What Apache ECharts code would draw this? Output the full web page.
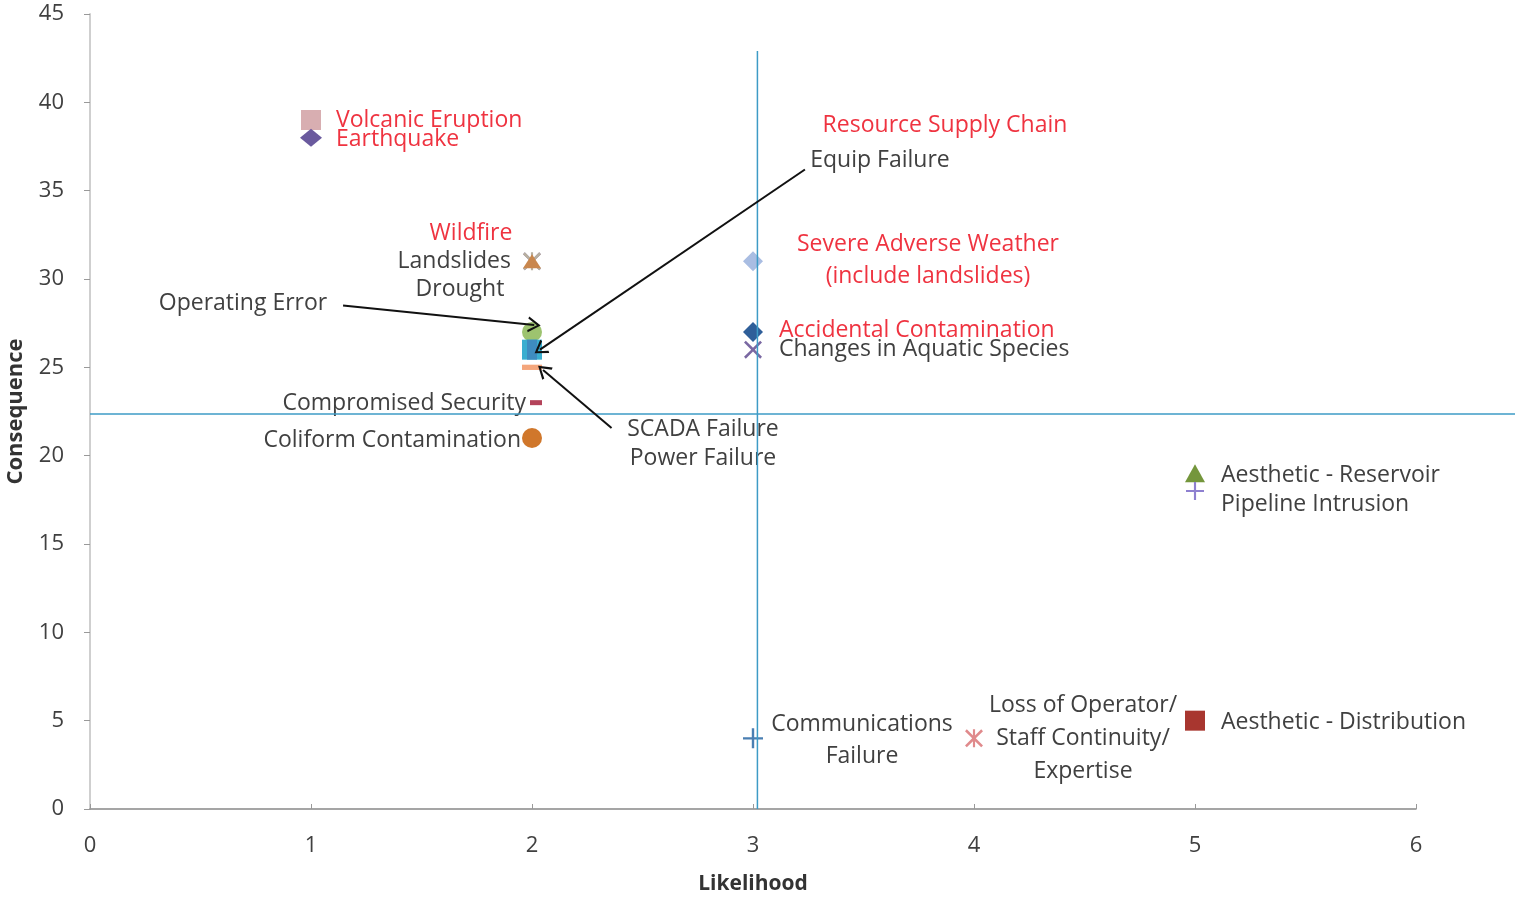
<!DOCTYPE html>
<html>
<head>
<meta charset="utf-8">
<script src="https://cdn.jsdelivr.net/npm/echarts@6/dist/echarts.min.js"></script>
<style>
  html, body { margin: 0; padding: 0; background: #fff; }
  #main { width: 1515px; height: 900px; }
</style>
</head>
<body>
<div id="main"></div>
<script>
// risk items: name, likelihood (x), consequence (y)
var names = [
  'Volcanic Eruption', 'Earthquake', 'Wildfire', 'Landslides', 'Drought',
  'Operating Error', 'Resource Supply Chain', 'Equip Failure', 'SCADA Failure', 'Power Failure',
  'Compromised Security', 'Coliform Contamination', 'Severe Adverse Weather\n(include landslides)',
  'Accidental Contamination', 'Changes in Aquatic Species', 'Communications\nFailure',
  'Loss of Operator/\nStaff Continuity/\nExpertise', 'Aesthetic - Reservoir', 'Pipeline Intrusion',
  'Aesthetic - Distribution'
];
var likelihood = [1, 1, 2, 2, 2, 2, 2, 2, 2, 2, 2, 2, 3, 3, 3, 3, 4, 5, 5, 5];
var consequence = [39, 38, 31, 31, 31, 27, 26, 26, 25, 25, 23, 21, 31, 27, 26, 4, 4, 19, 18, 5];

// reference lines
var refX = 3.02;
var refY = 22.36;
var refXTop = 42.9;
var refYRight = 6.45;

var xTicks = [0, 6, 1];   // min, max, step
var yTicks = [0, 45, 5];

var RED = '#ef3340';
var DARK = '#404040';

var P_X = 'path://M0,1 L1,0 L5,4 L9,0 L10,1 L6,5 L10,9 L9,10 L5,6 L1,10 L0,9 L4,5 Z';
var P_PLUS = 'path://M4.4,0 h1.2 v4.4 h4.4 v1.2 h-4.4 v4.4 h-1.2 v-4.4 h-4.4 v-1.2 h4.4 Z';
var P_STAR = 'path://M0,1 L1,0 L5,4 L9,0 L10,1 L6,5 L10,9 L9,10 L5,6 L1,10 L0,9 L4,5 Z M4.4,0 h1.2 v10 h-1.2 Z';
var P_HEAD = 'path://M0,10 L5,0 L10,10 L8.6,10.6 L5,3 L1.4,10.6 Z';

// marker + label styling per item
var look = {
  'Volcanic Eruption':        { s: 'rect', size: 20, c: '#d8aeb1', t: RED, pos: 'right', d: 15, off: [0, 0] },
  'Earthquake':               { s: 'diamond', size: [22, 18], c: '#6a5a9e', t: RED, pos: 'right', d: 14, off: [0, 2] },
  'Wildfire':                 { s: P_X, size: 18, c: '#8c7aa6', t: RED, pos: 'inside', off: [-61, -28] },
  'Landslides':               { s: P_STAR, size: 18, c: '#b8b0a0', t: DARK, pos: 'left', d: 12, off: [0, 0] },
  'Drought':                  { s: 'triangle', size: [18, 14], c: '#c9874e', t: DARK, pos: 'inside', off: [-72, 28] },
  'Operating Error':          { s: 'circle', size: 20, c: '#9dc36f', t: DARK, pos: 'inside', off: [-289, -29] },
  'Resource Supply Chain':    { s: 'rect', size: 20, c: '#3aaed0', t: RED, pos: 'inside', off: [413, -224] },
  'Equip Failure':            { s: 'rect', size: [10, 20], c: '#3e8cc0', t: DARK, pos: 'inside', off: [348, -189] },
  'SCADA Failure':            { s: 'rect', size: [20, 5], c: '#f4a67c', t: DARK, pos: 'inside', off: [171, 62] },
  'Power Failure':            { s: 'rect', size: [20, 5], c: '#f4a67c', t: DARK, pos: 'inside', off: [171, 91] },
  'Compromised Security':     { s: 'rect', size: [12, 5], c: '#b4435a', t: DARK, pos: 'left', d: 4, off: [0, 1], sx: 4 },
  'Coliform Contamination':   { s: 'circle', size: 20, c: '#d0772b', t: DARK, pos: 'left', d: 1, off: [0, 2] },
  'Severe Adverse Weather\n(include landslides)': { s: 'diamond', size: 20, c: '#a9bde2', t: RED, pos: 'inside', off: [175, -1], lh: 32 },
  'Accidental Contamination': { s: 'diamond', size: 20, c: '#2f5f99', t: RED, pos: 'right', d: 16, off: [0, -2] },
  'Changes in Aquatic Species': { s: P_X, size: 18, c: '#7a68a2', t: DARK, pos: 'right', d: 17, off: [0, 0] },
  'Communications\nFailure':  { s: P_PLUS, size: 20, c: '#4a7fb2', t: DARK, pos: 'inside', off: [109, 2], lh: 32 },
  'Loss of Operator/\nStaff Continuity/\nExpertise': { s: P_STAR, size: 18, c: '#e08a8c', t: DARK, pos: 'inside', off: [109, 0], lh: 33 },
  'Aesthetic - Reservoir':    { s: 'triangle', size: [20, 18], c: '#74963c', t: DARK, pos: 'right', d: 16, off: [0, 2] },
  'Pipeline Intrusion':       { s: P_PLUS, size: 18, c: '#8e80d0', t: DARK, pos: 'right', d: 17, off: [0, 13] },
  'Aesthetic - Distribution': { s: 'rect', size: 20, c: '#a8362f', t: DARK, pos: 'right', d: 16, off: [0, 2] }
};

var FONT = 'Open Sans';

var series = names.map(function (n, i) {
  var st = look[n];
  return {
    name: n,
    type: 'scatter',
    symbol: st.s,
    symbolSize: st.size,
    symbolOffset: st.sx ? [st.sx, 0] : [0, 0],
    itemStyle: { color: st.c, opacity: 1 },
    z: 3,
    label: {
      show: true,
      formatter: n,
      position: st.pos,
      distance: st.d || 5,
      offset: st.off,
      color: st.t,
      fontFamily: FONT,
      fontSize: 23,
      lineHeight: st.lh || 22,
      align: st.pos === 'inside' ? 'center' : undefined
    },
    emphasis: { disabled: true },
    data: [[likelihood[i], consequence[i]]]
  };
});

// arrows from text to points (annotation)
var arrows = [
  [[1.145, 28.5], [2.01, 27.4]],
  [[3.235, 36.2], [2.036, 26.0]],
  [[2.36, 21.56], [2.05, 24.85]]
];

// the two blue reference lines, drawn unclipped
series.push({
  type: 'custom',
  clip: false,
  silent: true,
  z: 4,
  data: [[refX, refY]],
  renderItem: function (params, api) {
    var h0 = api.coord([0, refY]);
    var h1 = api.coord([refYRight, refY]);
    var v0 = api.coord([refX, 0]);
    var v1 = api.coord([refX, refXTop]);
    var ls = { stroke: '#3d9bc6', lineWidth: 1.5 };
    return {
      type: 'group',
      children: [
        { type: 'line', shape: { x1: h0[0], y1: h0[1], x2: h1[0], y2: h1[1] }, style: ls },
        { type: 'line', shape: { x1: v0[0], y1: v0[1], x2: v1[0], y2: v1[1] }, style: ls }
      ]
    };
  }
});
series.push({
  type: 'scatter',
  data: [],
  silent: true,
  markLine: {
    silent: true,
    animation: false,
    symbol: ['none', P_HEAD],
    symbolSize: [16, 13],
    label: { show: false },
    lineStyle: { color: '#111', width: 2, type: 'solid' },
    data: arrows.map(function (a) {
      return [{ coord: a[0] }, { coord: a[1] }];
    })
  }
});

var chart = echarts.init(document.getElementById('main'));
chart.setOption({
  backgroundColor: '#fff',
  animation: false,
  grid: { left: 90, right: 99, top: 14, bottom: 91, outerBoundsMode: 'none' },
  xAxis: {
    type: 'value',
    min: xTicks[0], max: xTicks[1], interval: xTicks[2],
    name: 'Likelihood',
    nameLocation: 'middle',
    nameGap: 65,
    nameTextStyle: { fontFamily: FONT, fontSize: 21, fontWeight: 'bold', color: '#333' },
    axisLine: { lineStyle: { color: '#888', width: 1.5 } },
    axisTick: { inside: true, length: 5, lineStyle: { color: '#999' } },
    axisLabel: { fontFamily: FONT, fontSize: 22, color: DARK, margin: 26 },
    splitLine: { show: false }
  },
  yAxis: {
    type: 'value',
    min: yTicks[0], max: yTicks[1], interval: yTicks[2],
    name: 'Consequence',
    nameLocation: 'middle',
    nameGap: 63,
    nameTextStyle: { fontFamily: FONT, fontSize: 22, fontWeight: 'bold', color: '#333' },
    axisLine: { show: true, lineStyle: { color: '#cfcfcf', width: 2 } },
    axisTick: { show: true, length: 6, lineStyle: { color: '#999' } },
    axisLabel: { fontFamily: FONT, fontSize: 22, color: DARK, margin: 26 },
    splitLine: { show: false }
  },
  series: series
});
</script>
</body>
</html>
